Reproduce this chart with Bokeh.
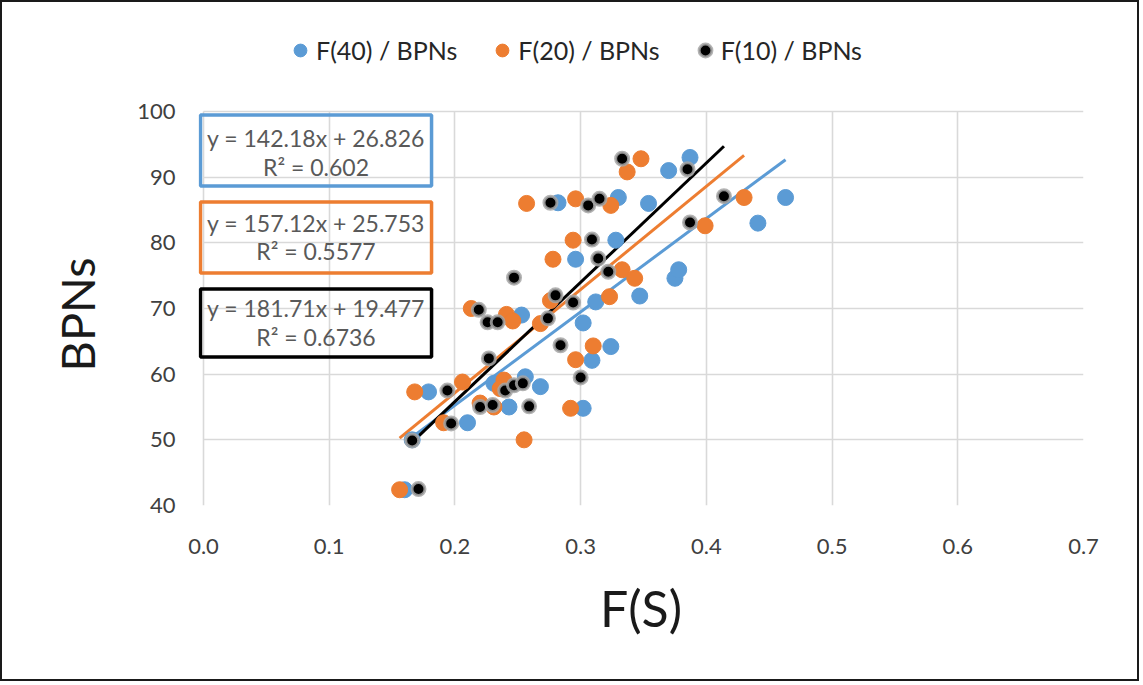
from bokeh.plotting import figure
from bokeh.models import (Legend, LegendItem, BoxAnnotation, Label, FixedTicker,
                          NumeralTickFormatter, Range1d, Title)
from bokeh.embed import file_html
from bokeh.resources import INLINE

# ---------------- data ----------------
f40_x = [0.160, 0.179, 0.210, 0.243, 0.256, 0.268, 0.231, 0.253, 0.296, 0.302,
         0.302, 0.312, 0.309, 0.324, 0.328, 0.330, 0.354, 0.347, 0.370, 0.387,
         0.375, 0.378, 0.441, 0.463, 0.282, 0.166]
f40_y = [42.4, 57.3, 52.6, 55.0, 59.6, 58.1, 58.6, 69.0, 77.5, 54.8,
         67.8, 71.0, 62.1, 64.2, 80.4, 86.9, 86.0, 71.9, 91.0, 93.0,
         74.6, 75.9, 83.0, 86.9, 86.1, 50.0]

f20_x = [0.156, 0.168, 0.191, 0.206, 0.220, 0.231, 0.239, 0.255, 0.257, 0.213,
         0.241, 0.246, 0.268, 0.278, 0.276, 0.294, 0.296, 0.296, 0.292, 0.310,
         0.323, 0.324, 0.333, 0.343, 0.337, 0.348, 0.399, 0.430, 0.236]
f20_y = [42.4, 57.3, 52.6, 58.8, 55.6, 55.0, 59.1, 50.0, 86.0, 70.0,
         69.1, 68.1, 67.7, 77.5, 71.2, 80.4, 86.7, 62.2, 54.8, 64.3,
         71.8, 85.7, 75.9, 74.6, 90.8, 92.8, 82.6, 86.9, 57.8]

f10_x = [0.171, 0.166, 0.194, 0.197, 0.219, 0.226, 0.234, 0.227, 0.220, 0.230,
         0.240, 0.247, 0.254, 0.247, 0.259, 0.274, 0.276, 0.280, 0.284, 0.294,
         0.300, 0.306, 0.309, 0.315, 0.314, 0.322, 0.333, 0.385, 0.387, 0.414]
f10_y = [42.5, 49.9, 57.5, 52.5, 69.8, 67.9, 67.9, 62.4, 55.0, 55.3,
         57.5, 58.3, 58.6, 74.7, 55.1, 68.5, 86.1, 72.0, 64.4, 70.9,
         59.5, 85.7, 80.5, 86.7, 77.6, 75.6, 92.8, 91.2, 83.1, 87.1]

series_names = ["F(40) / BPNs", "F(20) / BPNs", "F(10) / BPNs"]
slopes = [142.18, 157.12, 181.71]
intercepts = [26.826, 25.753, 19.477]
r2_texts = ["0.602", "0.5577", "0.6736"]

x_ticks = [0.0, 0.1, 0.2, 0.3, 0.4, 0.5, 0.6, 0.7]
y_ticks = [40, 50, 60, 70, 80, 90, 100]

BLUE = "#5B9BD5"
ORANGE = "#ED7D31"
BLACK = "#000000"
FONT = "Lato"

# The frame is a little larger than the 0-0.7 / 40-100 data area so that the
# legend (above) and the equation boxes (left edge) stay inside the frame.
X0, X1 = -0.00398, 0.7
Y0, Y1 = 40, 112.79
p = figure(width=1139, height=681, x_range=Range1d(X0, X1), y_range=Range1d(Y0, Y1),
           output_backend="svg", toolbar_location=None,
           min_border_left=196, min_border_right=58, min_border_top=25,
           min_border_bottom=178)
p.styles = {"border": "2px solid #1a1a1a"}
p.outline_line_color = None
p.background_fill_color = "white"
p.border_fill_color = "white"

# grid limited to the data area
for g in (p.xgrid, p.ygrid):
    g.grid_line_color = "#d9d9d9"
    g.grid_line_width = 1.6
p.xgrid.ticker = FixedTicker(ticks=x_ticks)
p.ygrid.ticker = FixedTicker(ticks=y_ticks)
p.ygrid.cross_bounds = (x_ticks[0], x_ticks[-1])
p.xgrid.cross_bounds = (y_ticks[0], y_ticks[-1])
p.xaxis.ticker = FixedTicker(ticks=x_ticks)
p.yaxis.ticker = FixedTicker(ticks=y_ticks)
p.xaxis.formatter = NumeralTickFormatter(format="0.0")

for ax in (p.xaxis, p.yaxis):
    ax.axis_line_color = None
    ax.major_tick_line_color = None
    ax.minor_tick_line_color = None
    ax.major_label_text_font = FONT
    ax.major_label_text_font_size = "22px"
    ax.major_label_text_color = "#404040"
    ax.axis_label_text_font = FONT
    ax.axis_label_text_font_style = "normal"
    ax.axis_label_text_color = "#1a1a1a"
    ax.axis_label_text_font_size = "50px"

p.xaxis.axis_label = "F(S)"
p.xaxis.major_label_standoff = 27
p.yaxis.major_label_standoff = 17
p.xaxis.axis_label_standoff = 21

# y-axis title centred on the 40-100 data span (not the enlarged frame)
ytitle = Title(text="BPNs", align="left", offset=125, standoff=41, padding=9,
               text_font=FONT, text_font_size="47px", text_font_style="normal",
               text_color="#1a1a1a")
p.add_layout(ytitle, "left")

# trend lines (drawn beneath points)
xs_all = [f40_x, f20_x, f10_x]
colors = [BLUE, ORANGE, BLACK]
for xs, m, b, c in zip(xs_all, slopes, intercepts, colors):
    x0, x1 = min(xs), max(xs)
    p.line([x0, x1], [m * x0 + b, m * x1 + b], line_color=c, line_width=3)

r40 = p.scatter(f40_x, f40_y, size=16, fill_color=BLUE, line_color=BLUE, line_width=1)
r20 = p.scatter(f20_x, f20_y, size=16, fill_color=ORANGE, line_color=ORANGE, line_width=1)
r10 = p.scatter(f10_x, f10_y, size=13, fill_color=BLACK, line_color="#a6a6a6",
                line_width=3, line_alpha=0.85)

legend = Legend(items=[LegendItem(label=series_names[0], renderers=[r40]),
                       LegendItem(label=series_names[1], renderers=[r20]),
                       LegendItem(label=series_names[2], renderers=[r10])],
                orientation="horizontal", location=(86, 437))
legend.border_line_color = None
legend.background_fill_alpha = 0
legend.label_text_font = FONT
legend.label_text_font_size = "25px"
legend.label_text_color = "#262626"
legend.glyph_width = 32
legend.glyph_height = 36
legend.label_standoff = 0
legend.spacing = 29
legend.padding = 0
legend.margin = 0
p.add_layout(legend)

# equation boxes
box_tops = [99.47, 86.23, 72.98]
box_bottoms = [88.66, 75.42, 62.63]
line1_y = [95.9, 83.0, 70.0]
line2_y = [91.5, 78.7, 65.6]
for i in range(3):
    p.add_layout(BoxAnnotation(left=-0.0024, right=0.1814, top=box_tops[i],
                               bottom=box_bottoms[i], fill_alpha=0,
                               line_color=colors[i], line_width=3.5, line_alpha=1))
    eq = "y = %.2fx + %.3f" % (slopes[i], intercepts[i])
    p.add_layout(Label(x=0.0895, y=line1_y[i], text=eq, text_align="center",
                       text_baseline="middle", text_font=FONT,
                       text_font_size="23px", text_color="#595959"))
    p.add_layout(Label(x=0.0895, y=line2_y[i], text="R\u00b2 = " + r2_texts[i],
                       text_align="center", text_baseline="middle", text_font=FONT,
                       text_font_size="23px", text_color="#595959"))

open("out.html", "w").write(file_html(p, INLINE))
